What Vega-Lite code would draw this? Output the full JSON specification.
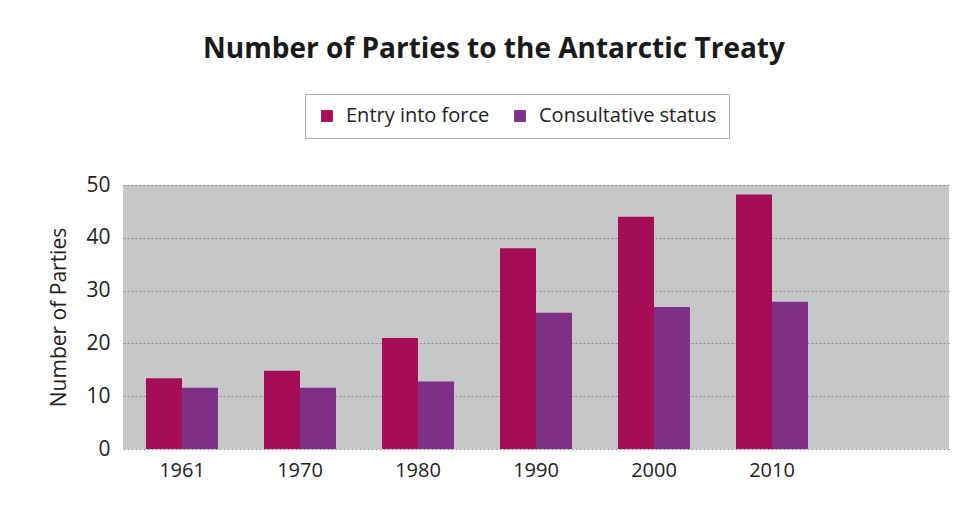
{
  "$schema": "https://vega.github.io/schema/vega-lite/v6.json",
  "autosize": "none",
  "width": 826,
  "height": 264,
  "padding": {"left": 123, "top": 185, "right": 25, "bottom": 75},
  "background": "white",
  "title": {
    "text": "Number of Parties to the Antarctic Treaty",
    "anchor": "middle",
    "frame": "group",
    "dx": -42,
    "offset": 30,
    "font": "Open Sans",
    "fontSize": 28,
    "fontWeight": "bold",
    "color": "#1a1a1a"
  },
  "data": {
    "values": [
      {"year": "1961", "series": "Entry into force", "parties": 13.4},
      {"year": "1961", "series": "Consultative status", "parties": 11.6},
      {"year": "1970", "series": "Entry into force", "parties": 14.8},
      {"year": "1970", "series": "Consultative status", "parties": 11.6},
      {"year": "1980", "series": "Entry into force", "parties": 21},
      {"year": "1980", "series": "Consultative status", "parties": 12.8},
      {"year": "1990", "series": "Entry into force", "parties": 38},
      {"year": "1990", "series": "Consultative status", "parties": 25.8},
      {"year": "2000", "series": "Entry into force", "parties": 44},
      {"year": "2000", "series": "Consultative status", "parties": 26.9},
      {"year": "2010", "series": "Entry into force", "parties": 48.2},
      {"year": "2010", "series": "Consultative status", "parties": 27.9}
    ]
  },
  "mark": {"type": "bar"},
  "encoding": {
    "x": {
      "field": "year",
      "type": "nominal",
      "scale": {"domain": ["1961", "1970", "1980", "1990", "2000", "2010", " "], "paddingInner": 0.39, "paddingOuter": 0.195},
      "axis": {
        "title": null,
        "labelAngle": 0,
        "domain": false,
        "ticks": false,
        "labelPadding": 11,
        "labelFont": "Open Sans",
        "labelFontSize": 20,
        "labelColor": "#222"
      }
    },
    "xOffset": {
      "field": "series",
      "type": "nominal",
      "scale": {"domain": ["Entry into force", "Consultative status"]}
    },
    "y": {
      "field": "parties",
      "type": "quantitative",
      "scale": {"domain": [0, 50], "nice": false},
      "axis": {
        "title": "Number of Parties",
        "values": [0, 10, 20, 30, 40, 50],
        "domain": false,
        "ticks": false,
        "labelPadding": 13,
        "labelFont": "Open Sans",
        "labelFontSize": 21,
        "labelColor": "#222",
        "titleFont": "Open Sans",
        "titleFontSize": 21,
        "titleFontWeight": "normal",
        "titleColor": "#222",
        "titlePadding": 16,
        "grid": true,
        "gridColor": "#8c8c8c",
        "gridDash": [2, 2],
        "gridWidth": 1.2
      }
    },
    "color": {
      "field": "series",
      "type": "nominal",
      "scale": {"domain": ["Entry into force", "Consultative status"], "range": ["#a50d55", "#7e2f86"]},
      "legend": {
        "title": null,
        "orient": "none",
        "direction": "horizontal",
        "legendX": 182,
        "legendY": -91,
        "symbolType": "square",
        "symbolSize": 140,
        "symbolStrokeWidth": 0,
        "labelFont": "Open Sans",
        "labelFontSize": 20,
        "labelLimit": 400,
        "labelOffset": 9,
        "labelColor": "#222",
        "columnPadding": 20,
        "padding": 12,
        "strokeColor": "#b0b0b0",
        "fillColor": "white"
      }
    }
  },
  "config": {
    "view": {"fill": "#c6c7c9", "stroke": null}
  }
}
